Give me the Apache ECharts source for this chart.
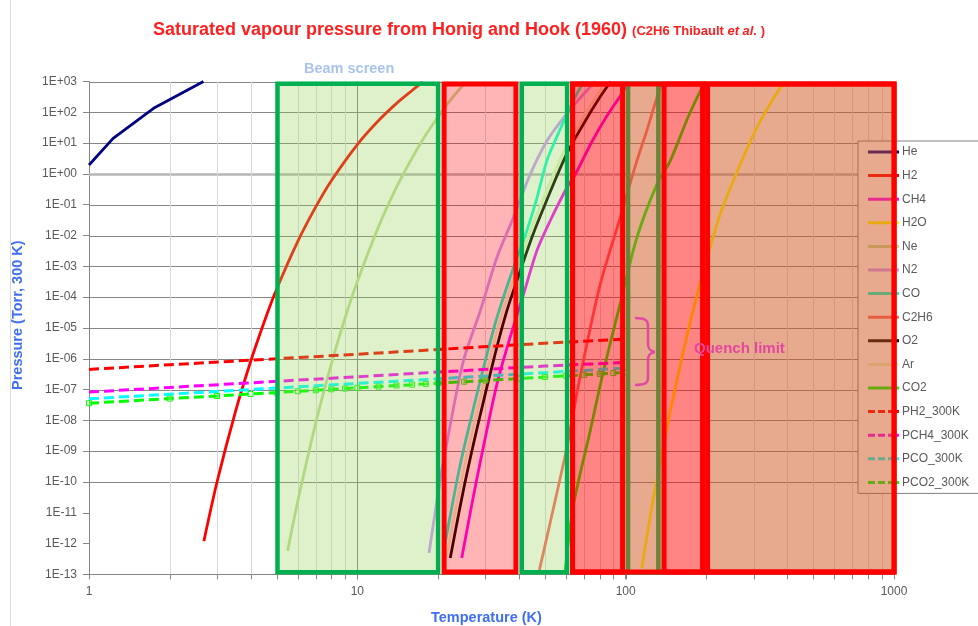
<!DOCTYPE html>
<html>
<head>
<meta charset="utf-8">
<script src="https://cdn.jsdelivr.net/npm/echarts/dist/echarts.min.js"></script>
<style>
  html, body { margin: 0; padding: 0; background: #ffffff; }
  #chart { width: 978px; height: 626px; }
</style>
</head>
<body>
<div id="chart"></div>
<script>
// Saturated vapour pressure curves (temperature in K, pressure in Torr)
const tHe = [1, 1.23, 1.74, 2.67];
const pHe = [1.95, 14.3, 135, 1000];

const tH2 = [2.68, 3.0, 3.5, 4.0, 4.5, 5.0, 6.0, 7.0, 8.0, 10, 12, 14, 16, 17.5];
const pH2 = [1.2e-12, 1.0e-10, 1.7e-8, 8.0e-7, 1.6e-5, 1.8e-4, 6.5e-3, 8.5e-2, 0.6, 9, 54, 195, 510, 950];

const tCH4 = [24.5, 28, 33.1, 37, 41.6, 46.6, 52, 60.3, 64.8, 75, 85, 98, 102];
const pCH4 = [3.4e-13, 1.5e-10, 1.45e-7, 4.6e-6, 1.2e-4, 3.1e-3, 2.7e-2, 0.35, 0.93, 11.5, 74, 480, 1000];

const tH2O = [114.8, 120, 126.9, 135, 142.3, 150, 164, 175, 189.4, 206.4, 225, 251.9, 280, 308, 340, 376.3, 393];
const pH2O = [1.6e-13, 1.7e-12, 3e-11, 5e-10, 5.5e-9, 5e-8, 1.7e-6, 1.9e-5, 2.8e-4, 4e-3, 5e-2, 0.6, 5.2, 31, 148, 620, 1000];

const tNe = [5.5, 6, 7, 8, 9, 10, 12, 14, 16, 18, 20, 22, 25.2];
const pNe = [5.8e-13, 2.4e-11, 8.3e-9, 6.8e-7, 2.1e-5, 3.2e-4, 1.95e-2, 0.37, 3.3, 18.6, 72, 224, 910];

const tN2 = [18.5, 20.3, 21.5, 24.8, 28.7, 33.1, 38.1, 44, 50.8, 58.6, 67.6, 77];
const pN2 = [5e-13, 1e-10, 1.6e-9, 8e-7, 3.5e-5, 1.9e-3, 3.7e-2, 0.93, 11.5, 65, 290, 1000];

const tCO = [21, 24, 27, 29.5, 33.1, 38, 42.8, 46.5, 50.8, 55, 60.3, 66, 70];
const pCO = [6e-13, 2.7e-10, 2.2e-8, 5e-7, 2.1e-5, 8e-4, 1.4e-2, 0.145, 2.6, 14, 83, 420, 1000];

const tC2H6 = [47.3, 53.8, 60.3, 67.6, 80.3, 95.3, 110, 120, 130.6, 137];
const pC2H6 = [1.0e-13, 1.4e-11, 1.26e-9, 2.5e-7, 2.5e-4, 3.7e-2, 2.6, 26, 290, 1000];

const tO2 = [22.2, 25, 28, 32.6, 36, 40, 45, 50, 60, 70, 80, 88];
const pO2 = [3.4e-13, 7e-11, 6e-9, 1.4e-6, 3.4e-5, 5.3e-4, 1e-2, 0.1, 4.1, 45, 300, 1000];

const tAr = [21.45, 24.15, 27.05, 31.5, 34.8, 38.6, 43.5, 48.3, 58, 67.6, 77.3, 85];
const pAr = [3.4e-13, 7e-11, 6e-9, 1.4e-6, 3.4e-5, 5.3e-4, 1e-2, 0.1, 4.1, 45, 300, 1000];

const tCO2 = [59.5, 63.9, 73.7, 82.6, 95.3, 110, 130.6, 146.4, 170, 189.4, 198];
const pCO2 = [1.3e-13, 1.8e-11, 4.4e-9, 3.9e-7, 5.9e-5, 8.3e-3, 0.45, 2.6, 63, 480, 1000];

// Quench limit expressed as equivalent pressure at 300 K
const tQuench = [1, 2, 5, 10, 20, 50, 100];
const pPH2_300K = [4.5e-7, 6.4e-7, 1.0e-6, 1.4e-6, 2.0e-6, 3.2e-6, 4.3e-6];
const pPCH4_300K = [8.3e-8, 1.17e-7, 1.85e-7, 2.6e-7, 3.7e-7, 5.8e-7, 7.6e-7];
const pPCO_300K = [5.0e-8, 7.1e-8, 1.12e-7, 1.58e-7, 2.24e-7, 3.54e-7, 5.0e-7];

const tPCO2 = [1, 2, 3, 4, 5, 6, 7, 8, 9, 10, 12, 14, 16, 18, 20, 25, 30, 40, 50, 60, 70, 80, 90, 100];
const pPCO2_300K = [3.6e-8, 5.1e-8, 6.2e-8, 7.2e-8, 8.0e-8, 8.8e-8, 9.5e-8, 1.02e-7, 1.08e-7, 1.14e-7,
  1.25e-7, 1.35e-7, 1.44e-7, 1.53e-7, 1.61e-7, 1.8e-7, 1.97e-7, 2.28e-7, 2.55e-7, 2.79e-7,
  3.01e-7, 3.22e-7, 3.42e-7, 3.6e-7];

// Temperature zones (K)
const zoneFrom = [5.04, 21.05, 41.0, 63.4, 97.4, 139.0, 193.5];
const zoneTo = [20.0, 39.0, 60.5, 97.4, 139.0, 193.5, 1001];
const zoneKind = ['green', 'pink', 'green', 'red', 'salmon', 'red', 'salmon'];

const frameFrom = [5.04, 21.05, 41.0, 63.4, 63.4, 139.0, 202];
const frameTo = [20.0, 39.0, 60.5, 1001, 97.4, 193.5, 1001];
const frameKind = ['green', 'red', 'green', 'red', 'red', 'red', 'red'];
const innerFrameFrom = [102.1];
const innerFrameTo = [132.4];

// Axis decorations
const decades = [1e3, 1e2, 1e1, 1e0, 1e-1, 1e-2, 1e-3, 1e-4, 1e-5, 1e-6, 1e-7, 1e-8, 1e-9, 1e-10];
const tempGrid = [2, 3, 4, 5, 6, 7, 8, 9, 10, 20, 30, 40, 50, 60, 70, 80, 90, 100,
  200, 300, 400, 500, 600, 700, 800, 900];

const zip = (t, p) => t.map((v, i) => [v, p[i]]);

const fillColors = {
  green: 'rgba(146,208,80,0.30)',
  pink: 'rgba(255,0,0,0.29)',
  red: 'rgba(255,0,0,0.48)',
  salmon: 'rgba(209,85,31,0.5)'
};
const edgeColors = { green: '#00b050', red: '#ff0000' };

const Y_MIN = 1e-13, Y_MAX = 1e3, X_MIN = 1, X_MAX = 1000;

const curves = [
  { name: 'He', data: zip(tHe, pHe), color: '#000080', smooth: false },
  { name: 'H2', data: zip(tH2, pH2), color: '#ff0000' },
  { name: 'CH4', data: zip(tCH4, pCH4), color: '#ff00ff' },
  { name: 'H2O', data: zip(tH2O, pH2O), color: '#ffff00' },
  { name: 'Ne', data: zip(tNe, pNe), color: '#bfdc96' },
  { name: 'N2', data: zip(tN2, pN2), color: '#cc99ff' },
  { name: 'CO', data: zip(tCO, pCO), color: '#00ffcc' },
  { name: 'C2H6', data: zip(tC2H6, pC2H6), color: '#ff6666' },
  { name: 'O2', data: zip(tO2, pO2), color: '#000000' },
  { name: 'Ar', data: zip(tAr, pAr), color: '#e2f5bf' },
  { name: 'CO2', data: zip(tCO2, pCO2), color: '#00ff00' },
  { name: 'PH2_300K', data: zip(tQuench, pPH2_300K), color: '#ff0000', dashed: true },
  { name: 'PCH4_300K', data: zip(tQuench, pPCH4_300K), color: '#ff00ff', dashed: true },
  { name: 'PCO_300K', data: zip(tQuench, pPCO_300K), color: '#00ffff', dashed: true },
  { name: 'PCO2_300K', data: zip(tPCO2, pPCO2_300K), color: '#00ff00', dashed: true, marker: true }
];

const solidIcon = 'path://M0,0H26V3H0Z M28,0H31V3H28Z';
const dashIcon = 'path://M0,0H7V3H0Z M10,0H17V3H10Z M20,0H26V3H20Z M28,0H31V3H28Z';

function plotBox(api) {
  const a = api.coord([X_MIN, Y_MAX]);
  const b = api.coord([X_MAX, Y_MIN]);
  return { x0: a[0], y0: a[1], x1: b[0], y1: b[1] };
}

const lineSeries = curves.map(c => ({
  name: c.name,
  type: 'line',
  data: c.data,
  z: 3,
  smooth: c.smooth === false || c.dashed ? false : 0.3,
  showSymbol: !!c.marker,
  symbol: c.marker ? 'rect' : 'none',
  symbolSize: 5,
  itemStyle: c.marker ? { color: 'rgba(255,255,255,0.2)', borderColor: c.color, borderWidth: 1 } : { color: c.color },
  lineStyle: {
    color: c.color,
    width: c.dashed ? 3 : 2.8,
    type: c.dashed ? [10, 5] : 'solid'
  },
  color: c.color,
  silent: true,
  animation: false
}));

const gridSeries = [
  {
    type: 'custom',
    name: 'hgrid',
    z: 1,
    silent: true,
    animation: false,
    data: decades.map(v => [X_MIN, v]),
    encode: { x: 0, y: 1 },
    renderItem(params, api) {
      const box = plotBox(api);
      const y = Math.round(api.coord([X_MIN, api.value(1)])[1]) + 0.5;
      const isUnit = Math.abs(api.value(1) - 1) < 1e-9;
      return {
        type: 'line',
        shape: { x1: box.x0, y1: y, x2: box.x1, y2: y },
        style: { stroke: isUnit ? '#b5b5b5' : '#868686', lineWidth: isUnit ? 2.5 : 1 }
      };
    }
  },
  {
    type: 'custom',
    name: 'vgrid',
    z: 1,
    silent: true,
    animation: false,
    data: tempGrid.map(v => [v, Y_MIN]),
    encode: { x: 0, y: 1 },
    renderItem(params, api) {
      const box = plotBox(api);
      const t = api.value(0);
      const x = Math.round(api.coord([t, Y_MIN])[0]) + 0.5;
      const major = t === 10 || t === 100;
      return {
        type: 'group',
        children: [
          { type: 'line', shape: { x1: x, y1: box.y0, x2: x, y2: box.y1 },
            style: { stroke: major ? '#868686' : '#d9d9d9', lineWidth: 1 } },
          { type: 'line', shape: { x1: x, y1: box.y1, x2: x, y2: box.y1 + 5 },
            style: { stroke: '#868686', lineWidth: 1 } }
        ]
      };
    }
  }
];

function rectSeries(name, z, from, to, styleFn) {
  return {
    type: 'custom',
    name,
    z,
    silent: true,
    animation: false,
    clip: false,
    data: from.map((f, i) => [f, Y_MIN, to[i], i]),
    encode: { x: 0, y: 1 },
    renderItem(params, api) {
      const box = plotBox(api);
      const i = api.value(3);
      const st = styleFn(i);
      const xa = api.coord([api.value(0), Y_MIN])[0];
      const xb = api.coord([api.value(2), Y_MIN])[0];
      const inset = st.lineWidth ? st.lineWidth / 2 : 0;
      return {
        type: 'rect',
        shape: { x: xa, y: box.y0 + inset, width: xb - xa, height: box.y1 - box.y0 - 2 * inset },
        style: st
      };
    }
  };
}

const zoneSeries = [
  rectSeries('innerFrame', 9, innerFrameFrom, innerFrameTo,
    () => ({ fill: 'none', stroke: edgeColors.green, lineWidth: 4.5 })),
  rectSeries('zones', 10, zoneFrom, zoneTo,
    i => ({ fill: fillColors[zoneKind[i]], stroke: 'none' })),
  rectSeries('frames', 11, frameFrom, frameTo,
    i => ({ fill: 'none', stroke: edgeColors[frameKind[i]], lineWidth: frameKind[i] === 'red' ? 5 : 4.5 }))
];

const expLabel = v => {
  const e = Math.round(Math.log10(v));
  return '1E' + (e < 0 ? '-' : '+') + String(Math.abs(e)).padStart(2, '0');
};

// Curly brace next to the quench-limit lines
const BRACE = '#e24aa2';
const braceParts = [
  { type: 'bezierCurve', shape: { x1: 635, y1: 318, cpx1: 645, cpy1: 318, cpx2: 648, cpy2: 320, x2: 648, y2: 326 } },
  { type: 'line', shape: { x1: 648, y1: 326, x2: 648, y2: 344 } },
  { type: 'bezierCurve', shape: { x1: 648, y1: 344, cpx1: 648, cpy1: 349, cpx2: 650, cpy2: 351, x2: 655, y2: 352 } },
  { type: 'bezierCurve', shape: { x1: 655, y1: 352, cpx1: 650, cpy1: 353, cpx2: 648, cpy2: 355, x2: 648, y2: 360 } },
  { type: 'line', shape: { x1: 648, y1: 360, x2: 648, y2: 378 } },
  { type: 'bezierCurve', shape: { x1: 648, y1: 378, cpx1: 648, cpy1: 383, cpx2: 645, cpy2: 385, x2: 635, y2: 385 } }
].map(p => Object.assign(p, { z: 20, silent: true, style: { fill: 'none', stroke: BRACE, lineWidth: 2.5 } }));

const chart = echarts.init(document.getElementById('chart'), null, { renderer: 'canvas' });

chart.setOption({
  backgroundColor: '#ffffff',
  animation: false,
  textStyle: { fontFamily: 'Liberation Sans, Arial, sans-serif' },
  title: {
    text: '{m|Saturated vapour pressure from Honig and Hook (1960)} {s|(C2H6 Thibault }{i|et al.}{s| )}',
    left: 153,
    top: 21,
    padding: 0,
    textStyle: {
      rich: {
        m: { fontSize: 18, fontWeight: 'bold', color: '#ff1f1f', fontFamily: 'Liberation Sans', verticalAlign: 'bottom' },
        s: { fontSize: 13, fontWeight: 'bold', color: '#ff1f1f', fontFamily: 'Liberation Sans', verticalAlign: 'bottom', padding: [0, 0, 1, 0] },
        i: { fontSize: 13, fontWeight: 'bold', fontStyle: 'italic', color: '#ff1f1f', fontFamily: 'Liberation Sans', verticalAlign: 'bottom', padding: [0, 0, 1, 0] }
      }
    }
  },
  grid: { left: 89, right: 84, top: 81.5, bottom: 51.6, containLabel: false },
  xAxis: {
    type: 'log',
    logBase: 10,
    min: X_MIN,
    max: X_MAX,
    interval: 1,
    axisLine: { show: true, lineStyle: { color: '#868686', width: 1 } },
    axisTick: { show: true, length: 5, lineStyle: { color: '#868686' } },
    axisLabel: { color: '#595959', fontSize: 12, margin: 11, fontFamily: 'Liberation Sans',
      formatter: v => String(Math.round(v)) },
    splitLine: { show: false }
  },
  yAxis: {
    type: 'log',
    logBase: 10,
    min: Y_MIN,
    max: Y_MAX,
    interval: 1,
    axisLine: { show: true, lineStyle: { color: '#868686', width: 1 } },
    axisTick: { show: true, length: 6, lineStyle: { color: '#868686' } },
    axisLabel: { color: '#595959', fontSize: 12, margin: 12, fontFamily: 'Liberation Sans', formatter: expLabel },
    splitLine: { show: false }
  },
  legend: {
    orient: 'vertical',
    left: 858,
    top: 141,
    padding: [5, 60, 5, 10],
    itemWidth: 31,
    itemHeight: 14,
    itemGap: 11.6,
    backgroundColor: '#ffffff',
    borderColor: '#808080',
    borderWidth: 1,
    borderRadius: 0,
    selectedMode: false,
    itemStyle: { borderWidth: 0 },
    textStyle: { color: '#595959', fontSize: 12, fontFamily: 'Liberation Sans', padding: [0, 0, 0, -2] },
    data: curves.map(c => ({ name: c.name, icon: c.dashed ? dashIcon : solidIcon, itemStyle: { color: c.color } }))
  },
  graphic: [
    {
      type: 'line', z: 0, silent: true,
      shape: { x1: 10.5, y1: 0, x2: 10.5, y2: 626 },
      style: { stroke: '#d9d9d9', lineWidth: 1 }
    },
    {
      type: 'text', left: 304, top: 61, z: 20, silent: true,
      style: { text: 'Beam screen', fill: '#a9c3ee', font: 'bold 14.5px "Liberation Sans", Arial, sans-serif' }
    },
    {
      type: 'text', left: 694, top: 341, z: 20, silent: true,
      style: { text: 'Quench limit', fill: '#e4469f', font: 'bold 15px "Liberation Sans", Arial, sans-serif' }
    },
    ...braceParts,
    {
      type: 'text', left: 431, top: 610, z: 20, silent: true,
      style: { text: 'Temperature (K)', fill: '#3f6ef3', font: 'bold 14.5px "Liberation Sans", Arial, sans-serif' }
    },
    {
      type: 'text', z: 20, silent: true, rotation: Math.PI / 2,
      x: 10, y: 390,
      style: { text: 'Pressure (Torr, 300 K)', fill: '#3f6ef3', font: 'bold 14.5px "Liberation Sans", Arial, sans-serif' }
    }
  ],
  series: [...gridSeries, ...lineSeries, ...zoneSeries]
});
</script>
</body>
</html>
